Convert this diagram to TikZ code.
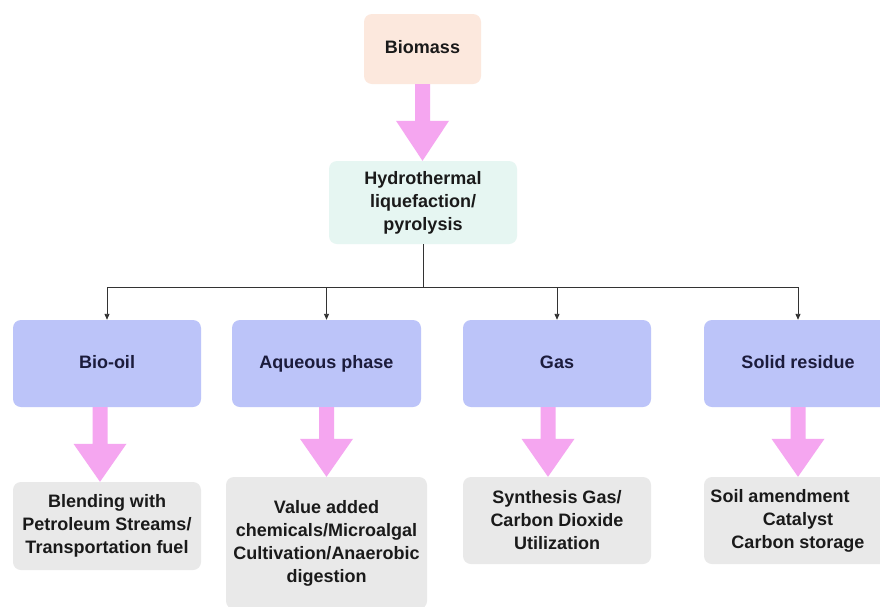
\documentclass[tikz,border=0pt]{standalone}
\usepackage{fontspec}
\setmainfont{Liberation Sans}
\usetikzlibrary{arrows.meta,calc}

\definecolor{peachfill}{HTML}{FCE8DD}
\definecolor{mintfill}{HTML}{E6F6F2}
\definecolor{bluefill}{HTML}{BCC4F9}
\definecolor{greyfill}{HTML}{E9E9E9}
\definecolor{pinkarrow}{HTML}{F5A6F0}
\definecolor{navytext}{HTML}{1C1C3C}
\definecolor{darktext}{HTML}{1A1A1A}
\definecolor{linecol}{HTML}{333333}

\tikzset{
  box/.style={rectangle, rounded corners=8pt, inner sep=0pt, align=center,
    font=\bfseries\fontsize{18}{23}\selectfont, text=darktext},
  singleline/.style={text height=13pt, text depth=3.5pt},
  sourcebox/.style={box, singleline, fill=peachfill, minimum width=117pt, minimum height=70pt},
  processbox/.style={box, fill=mintfill, minimum width=188pt, minimum height=83pt},
  productbox/.style={box, singleline, fill=bluefill, text=navytext, minimum width=188pt, minimum height=87pt},
  usebox/.style={box, fill=greyfill, minimum width=188pt, minimum height=88pt},
  branch/.style={draw=linecol, line width=0.9pt},
  branchtip/.style={branch, -{Triangle[length=6pt,width=5pt]}},
  fatarrowfill/.style={fill=pinkarrow},
}

% broad pink arrow from the bottom of #2 to the top of #3, shifted sideways by #4
\newcommand\fatarrow[4][38pt]{%
  \fill[fatarrowfill] let \p1=(#2.south), \p2=(#3.north) in
    (\x1+#4-7.5pt,\y1) -- (\x1+#4-7.5pt,\y2+#1) -- (\x1+#4-26.5pt,\y2+#1)
    -- (\x1+#4,\y2) -- (\x1+#4+26.5pt,\y2+#1) -- (\x1+#4+7.5pt,\y2+#1)
    -- (\x1+#4+7.5pt,\y1) -- cycle;}

\begin{document}
\begin{tikzpicture}[x=1pt,y=-1pt]
  \fill[white] (0,0) rectangle (880,606);
  \clip (0,0) rectangle (880,606);
  \useasboundingbox (0,0) rectangle (880,606);

  % source and conversion step
  \node[sourcebox]  (biomass) at (422.5,49)  {Biomass};
  \node[processbox] (htl)     at (423,202.5) {Hydrothermal\\liquefaction/\\pyrolysis};

  % product streams
  \node[productbox] (biooil)  at (107,363.5)   {Bio-oil};
  \node[productbox, minimum width=189pt] (aqueous) at (326.5,363.5) {Aqueous phase};
  \node[productbox] (gas)     at (557,363.5)   {Gas};
  \node[productbox] (solid)   at (798,363.5)   {Solid residue};

  % end uses
  \node[usebox] (blend) at (107,526)
    {Blending with\\Petroleum Streams/\\Transportation fuel};
  \node[usebox, minimum width=201pt, minimum height=132pt] (value) at (326.5,543)
    {Value added\\chemicals/Microalgal\\Cultivation/Anaerobic\\digestion};
  \node[usebox, minimum height=87pt] (synth) at (557,520.5)
    {Synthesis Gas/\\Carbon Dioxide\\Utilization};
  \node[usebox, minimum height=87pt] (soil) at (798,520.5)
    {Soil amendment\hspace*{36pt}\\Catalyst\\Carbon storage};

  % broad arrows
  \fatarrow[40pt]{biomass}{htl}{0pt}
  \fatarrow{biooil}{blend}{-7pt}
  \fatarrow{aqueous}{value}{0pt}
  \fatarrow{gas}{synth}{-9pt}
  \fatarrow{solid}{soil}{0pt}

  % branching connectors
  \coordinate (bus) at (423,287);
  \draw[branch] (htl.south) -- (bus);
  \draw[branch] (bus -| biooil.north) -- (bus -| solid.north);
  \foreach \n in {biooil,aqueous,gas,solid}
    \draw[branchtip] (bus -| \n.north) -- (\n.north);
\end{tikzpicture}
\end{document}
